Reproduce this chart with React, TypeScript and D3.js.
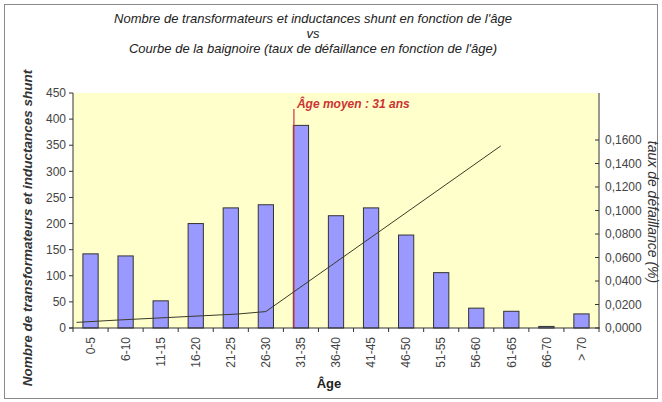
import * as d3 from "d3";

const categories = ["0-5", "6-10", "11-15", "16-20", "21-25", "26-30", "31-35", "36-40", "41-45", "46-50", "51-55", "56-60", "61-65", "66-70", "> 70"];
const counts = [142, 138, 52, 200, 230, 236, 388, 215, 230, 178, 106, 38, 32, 3, 27];

// failure-rate curve (age in years, rate)
const rateAges = [0, 6, 13, 18, 23, 27, 60.5];
const rateValues = [0.0048, 0.0068, 0.0089, 0.0104, 0.0119, 0.014, 0.155];

const leftTicks = [0, 50, 100, 150, 200, 250, 300, 350, 400, 450];
const rightTicks = [0, 0.02, 0.04, 0.06, 0.08, 0.1, 0.12, 0.14, 0.16];
const meanAge = 31;

const W = 662;
const H = 402;
const plot = { left: 73, right: 599, top: 93, bottom: 328 };

const narrow = "'Liberation Sans Narrow', 'Arial Narrow', 'Liberation Sans', Arial, sans-serif";
const sans = "'Liberation Sans', Arial, sans-serif";

export default function App() {
  const x = d3.scaleBand<string>().domain(categories).range([plot.left, plot.right]).padding(0);
  const barW = x.bandwidth() / 2.3;
  const y = d3.scaleLinear().domain([0, 450]).range([plot.bottom, plot.top]);
  const y2 = d3.scaleLinear().domain([0, 0.2]).range([plot.bottom, plot.top]);
  const ageX = d3.scaleLinear().domain([-0.5, 74.5]).range([plot.left, plot.right]);

  const rateLine = d3
    .line<number>()
    .x((_, i) => ageX(rateAges[i]))
    .y((d) => y2(d));

  const fmt = (v: number) => v.toFixed(4).replace(".", ",");

  return (
    <svg width={W} height={H} style={{ position: "absolute", left: 0, top: 0, background: "#fff" }}>
      <rect x={4.5} y={4.5} width={W - 9} height={H - 8} fill="#fff" stroke="#8a8a8a" />

      {/* titles */}
      <g fontFamily={narrow} fontStyle="italic" fontSize={13} fill="#222" textAnchor="middle">
        <text x={313} y={23}>Nombre de transformateurs et inductances shunt en fonction de  l'âge</text>
        <text x={313} y={38}>vs</text>
        <text x={313} y={53}>Courbe de la baignoire (taux de défaillance en fonction de l'âge)</text>
      </g>

      {/* plot area */}
      <rect x={plot.left} y={plot.top} width={plot.right - plot.left} height={plot.bottom - plot.top} fill="#ffffcc" />

      {/* bars */}
      {categories.map((c, i) => (
        <rect
          key={c}
          x={x(c)! + (x.bandwidth() - barW) / 2}
          y={y(counts[i])}
          width={barW}
          height={y(0) - y(counts[i])}
          fill="#9999ff"
          stroke="#333"
          strokeWidth={1}
        />
      ))}

      {/* mean age marker */}
      <line x1={ageX(meanAge)} x2={ageX(meanAge)} y1={y2(0.2) + 16} y2={plot.bottom} stroke="#cc3344" strokeWidth={1.2} />
      <text x={ageX(meanAge) + 3} y={y2(0.2) + 15} fontFamily={sans} fontStyle="italic" fontWeight="bold" fontSize={12} fill="#cc3333">
        Âge moyen : {meanAge} ans
      </text>

      {/* failure rate line */}
      <path d={rateLine(rateValues) ?? undefined} fill="none" stroke="#3a3a2a" strokeWidth={1} />

      {/* axes */}
      <g stroke="#333" strokeWidth={1}>
        <line x1={plot.left} x2={plot.left} y1={plot.top} y2={plot.bottom} />
        <line x1={plot.right} x2={plot.right} y1={plot.top} y2={plot.bottom} />
        <line x1={plot.left - 4} x2={plot.right + 1} y1={plot.bottom} y2={plot.bottom} />
        {leftTicks.map((t) => (
          <line key={t} x1={plot.left - 4} x2={plot.left} y1={y(t)} y2={y(t)} />
        ))}
        {rightTicks.map((t) => (
          <line key={t} x1={plot.right - 4} x2={plot.right} y1={y2(t)} y2={y2(t)} />
        ))}
        {categories.map((c) => (
          <line key={c} x1={x(c)!} x2={x(c)!} y1={plot.bottom} y2={plot.bottom + 4} />
        ))}
        <line x1={plot.right} x2={plot.right} y1={plot.bottom} y2={plot.bottom + 4} />
      </g>

      <g fontFamily={sans} fontSize={12} fill="#444">
        {leftTicks.map((t) => (
          <text key={t} x={plot.left - 7} y={y(t)} dy="0.35em" textAnchor="end">
            {t}
          </text>
        ))}
        {rightTicks.map((t) => (
          <text key={t} x={plot.right + 6} y={y2(t)} dy="0.35em">
            {fmt(t)}
          </text>
        ))}
        {categories.map((c) => (
          <text
            key={c}
            transform={`translate(${x(c)! + x.bandwidth() / 2},${plot.bottom + 9}) rotate(-90)`}
            dy="0.35em"
            textAnchor="end"
          >
            {c}
          </text>
        ))}
      </g>

      {/* axis titles */}
      <text x={329} y={388} textAnchor="middle" fontFamily={sans} fontWeight="bold" fontSize={13} fill="#222">
        Âge
      </text>
      <text
        transform={`translate(32,228) rotate(-90)`}
        textAnchor="middle"
        fontFamily={sans}
        fontStyle="italic"
        fontWeight="bold"
        fontSize={13.5}
        fill="#333"
      >
        Nombre de transformateurs et inductances shunt
      </text>
      <text
        transform={`translate(648,212) rotate(90)`}
        textAnchor="middle"
        fontFamily={sans}
        fontStyle="italic"
        fontSize={14}
        fill="#333"
      >
        taux de défaillance (%)
      </text>
    </svg>
  );
}
